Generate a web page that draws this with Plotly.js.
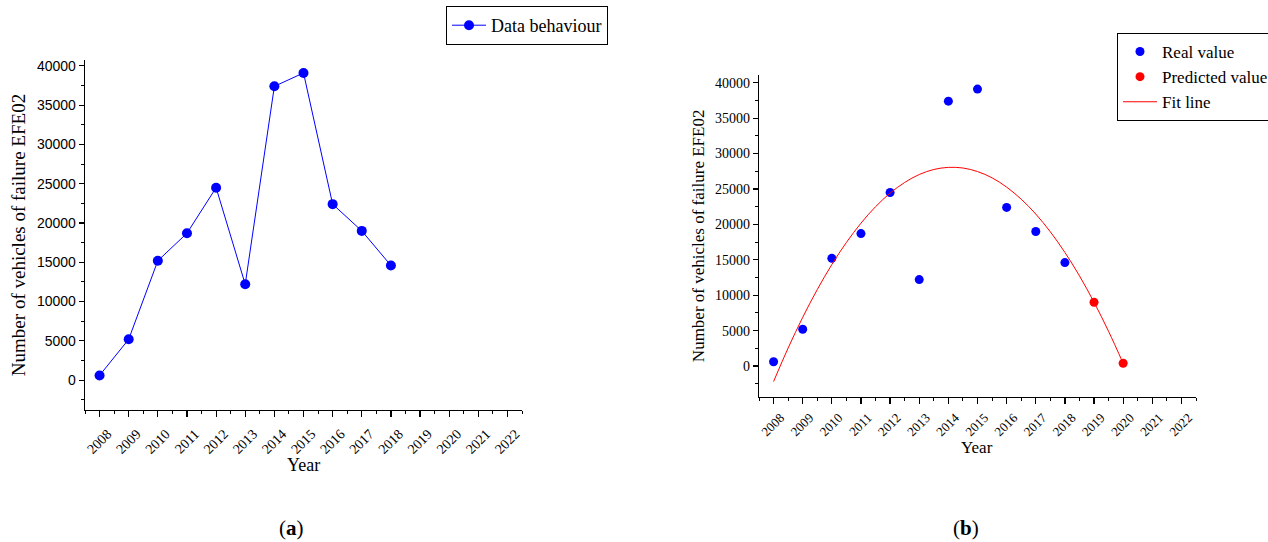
<!DOCTYPE html>
<html>
<head>
<meta charset="utf-8">
<script src="https://cdn.plot.ly/plotly-3.0.1.min.js"></script>
<style>html,body{margin:0;padding:0;background:#fff;}#chart{width:1268px;height:542px;}</style>
</head>
<body>
<div id="chart"></div>
<script>
// ---- data ----
var years = [2008, 2009, 2010, 2011, 2012, 2013, 2014, 2015, 2016, 2017, 2018];
var failures = [600, 5200, 15200, 18700, 24500, 12200, 37400, 39100, 22400, 19000, 14600];
var predYears = [2019, 2020];
var predValues = [9000, 400];
var fitYears = [2008, 2008.5, 2009, 2009.5, 2010, 2010.5, 2011, 2011.5, 2012, 2012.5, 2013, 2013.5, 2014, 2014.5, 2015, 2015.5, 2016, 2016.5, 2017, 2017.5, 2018, 2018.5, 2019, 2019.5, 2020];
var fitValues = [-2190, 2540, 6870, 10800, 14330, 17450, 20170, 22490, 24410, 25920, 27040, 27750, 28050, 27960, 27460, 26570, 25260, 23560, 21460, 18950, 16040, 12730, 9010, 4890, 380];
var tickYears = [2008, 2009, 2010, 2011, 2012, 2013, 2014, 2015, 2016, 2017, 2018, 2019, 2020, 2021, 2022];
var tickYearLabels = ["2008", "2009", "2010", "2011", "2012", "2013", "2014", "2015", "2016", "2017", "2018", "2019", "2020", "2021", "2022"];
var yTicks = [0, 5000, 10000, 15000, 20000, 25000, 30000, 35000, 40000];
var yTickLabels = ["0", "5000", "10000", "15000", "20000", "25000", "30000", "35000", "40000"];
var yTitle = "Number of vehicles of failure EFE02";
var xTitle = "Year";

// ---- layout helpers ----
var W = 1268, H = 542;
function fx(px) { return px / W; }
function fy(py) { return 1 - py / H; }
var SERIF = "Liberation Serif, Times New Roman, serif";
var SANS = "Liberation Sans, Arial, sans-serif";

var traces = [
  {
    x: years, y: failures, type: 'scatter', mode: 'lines+markers',
    name: 'Data behaviour', xaxis: 'x', yaxis: 'y',
    line: {color: '#0000ff', width: 1},
    marker: {color: '#0000ff', size: 10},
    legend: 'legend'
  },
  {
    x: years, y: failures, type: 'scatter', mode: 'markers',
    name: 'Real value', xaxis: 'x2', yaxis: 'y2',
    marker: {color: '#0000ff', size: 9},
    legend: 'legend2'
  },
  {
    x: predYears, y: predValues, type: 'scatter', mode: 'markers',
    name: 'Predicted value', xaxis: 'x2', yaxis: 'y2',
    marker: {color: '#ff0000', size: 9},
    legend: 'legend2'
  },
  {
    x: fitYears, y: fitValues, type: 'scatter', mode: 'lines',
    name: 'Fit line', xaxis: 'x2', yaxis: 'y2',
    line: {color: '#ff0000', width: 1, shape: 'spline'},
    legend: 'legend2'
  }
];

function xAxis(domain, anchor, fontSize, standoff, shift) {
  return {
    domain: domain, anchor: anchor, range: [2007.5, 2022.5],
    tickmode: 'array', tickvals: tickYears, ticktext: tickYearLabels,
    tickangle: -45, ticks: 'outside', ticklen: 6, tickwidth: 1.2, tickcolor: '#000',
    ticklabelstandoff: standoff, ticklabelshift: shift,
    showline: true, linecolor: '#000', linewidth: 1.3, mirror: false,
    showgrid: false, zeroline: false,
    tickfont: {family: SERIF, size: fontSize, color: '#000'},
    minor: {ticks: 'outside', ticklen: 3, tickwidth: 1, tickcolor: '#000', dtick: 0.5, tick0: 2007.5, showgrid: false},
    automargin: false
  };
}
function yAxis(domain, anchor, range, fontFam, titleSize) {
  return {
    domain: domain, anchor: anchor, range: range,
    tickmode: 'array', tickvals: yTicks, ticktext: yTickLabels,
    ticks: 'outside', ticklen: 5, tickwidth: 1.2, tickcolor: '#000',
    showline: true, linecolor: '#000', linewidth: 1.3, mirror: false,
    showgrid: false, zeroline: false,
    tickfont: {family: fontFam, size: 14, color: '#000'},
    minor: {ticks: 'outside', ticklen: 3, tickwidth: 1, tickcolor: '#000', dtick: 2500, tick0: 0, showgrid: false},
    title: {text: yTitle, font: {family: SERIF, size: titleSize, color: '#000'}, standoff: 6},
    automargin: false
  };
}

var layout = {
  width: W, height: H,
  margin: {l: 0, r: 0, t: 0, b: 0, autoexpand: false},
  paper_bgcolor: '#fff', plot_bgcolor: '#fff',
  showlegend: true,
  xaxis: xAxis([fx(85), fx(522)], 'y', 14, 3, 8),
  yaxis: yAxis([fy(410), fy(60)], 'x', [-3800, 40750], SANS, 19),
  xaxis2: xAxis([fx(759), fx(1196)], 'y2', 13, 1, 7),
  yaxis2: yAxis([fy(396.7), fy(75)], 'x2', [-4330, 41090], SERIF, 17),
  legend: {
    x: fx(446), y: fy(6), xanchor: 'left', yanchor: 'top',
    bgcolor: '#fff', bordercolor: '#000', borderwidth: 1,
    font: {family: SERIF, size: 18, color: '#000'},
    tracegroupgap: 0, itemwidth: 34
  },
  legend2: {
    x: fx(1117), y: fy(33), xanchor: 'left', yanchor: 'top',
    bgcolor: '#fff', bordercolor: '#000', borderwidth: 1,
    font: {family: SERIF, size: 17, color: '#000'},
    tracegroupgap: 0, itemwidth: 34
  },
  annotations: [
    {text: xTitle, x: fx(303), y: fy(465), xref: 'paper', yref: 'paper', showarrow: false,
     font: {family: SERIF, size: 18, color: '#000'}, xanchor: 'center', yanchor: 'middle'},
    {text: xTitle, x: fx(977), y: fy(447), xref: 'paper', yref: 'paper', showarrow: false,
     font: {family: SERIF, size: 17, color: '#000'}, xanchor: 'center', yanchor: 'middle'},
    {text: '(<b>a</b>)', x: fx(291), y: fy(528), xref: 'paper', yref: 'paper', showarrow: false,
     font: {family: SERIF, size: 21, color: '#000'}, xanchor: 'center', yanchor: 'middle'},
    {text: '(<b>b</b>)', x: fx(966), y: fy(528), xref: 'paper', yref: 'paper', showarrow: false,
     font: {family: SERIF, size: 21, color: '#000'}, xanchor: 'center', yanchor: 'middle'}
  ]
};

Plotly.newPlot('chart', traces, layout, {displayModeBar: false, staticPlot: true});
</script>
</body>
</html>
